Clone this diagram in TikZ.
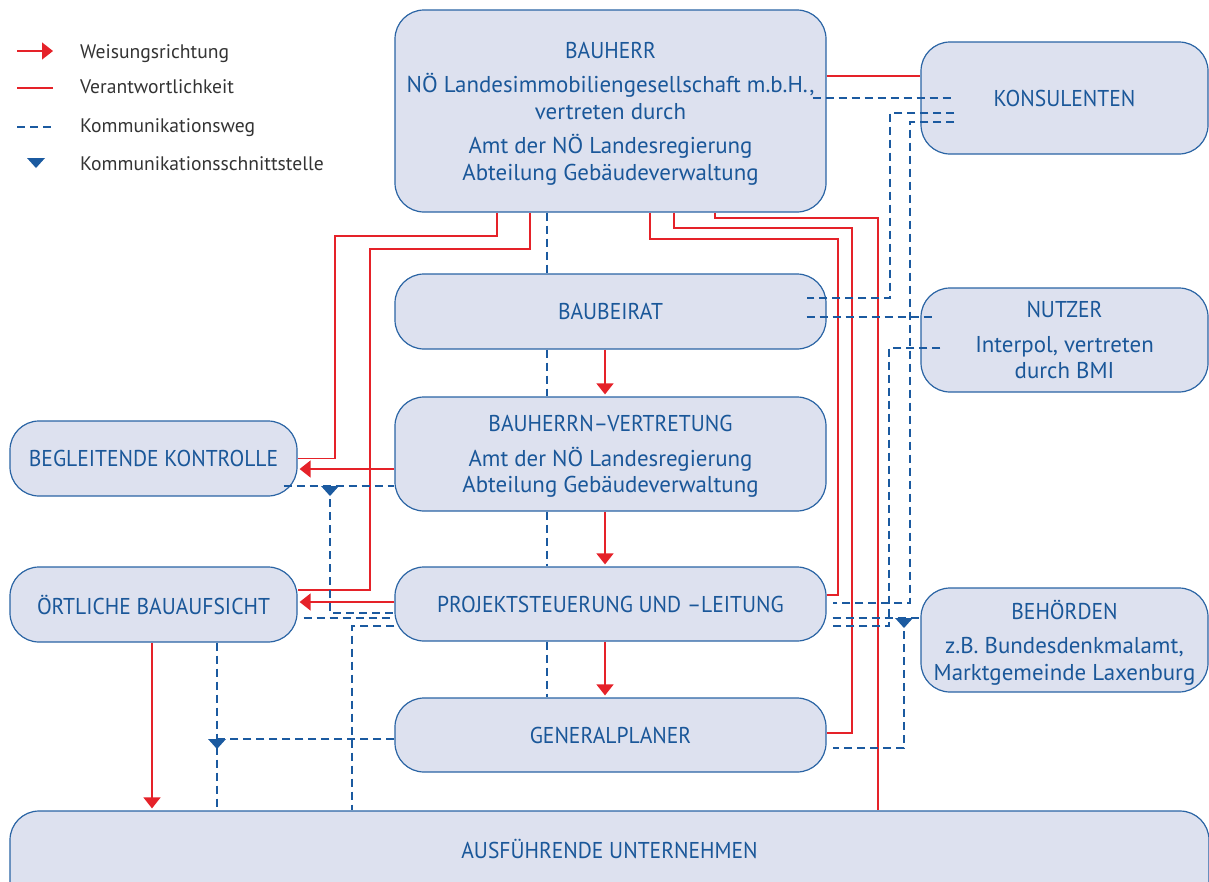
\documentclass[tikz,border=0pt]{standalone}
\usepackage{fontspec}
\setmainfont{PT Sans}
\newfontfamily\capsfamily[FakeStretch=0.94]{PT Sans}
\usetikzlibrary{arrows.meta}
\definecolor{boxfill}{HTML}{DDE1EF}
\definecolor{boxline}{HTML}{2A64A4}
\definecolor{boxtext}{HTML}{1A5799}
\definecolor{commblue}{HTML}{1B5AA0}
\definecolor{respred}{HTML}{E52229}
\definecolor{legendgray}{HTML}{333333}
\newcommand\boxfont{\fontsize{22.9}{26.5}\selectfont}
\newcommand\legfont{\fontsize{19.6}{22}\selectfont}
\newcommand\headline[1]{{\capsfamily #1}}
\tikzset{
  box/.style={draw=boxline, fill=boxfill, line width=1.2pt, rounded corners=29pt,
    text=boxtext, align=center, inner sep=0pt, text depth=-3pt, font=\boxfont},
  capsbox/.style={box, font=\boxfont\capsfamily},
  resp/.style={draw=respred, line width=1.4pt},
  order/.style={resp, -{Triangle[length=11pt,width=17pt]}, shorten >=2pt},
  comm/.style={draw=commblue, line width=2pt, dash pattern=on 8pt off 5pt},
  legtext/.style={anchor=base west, inner sep=0pt, text=legendgray, font=\legfont},
  iface/.pic={\fill[commblue] (-9,0) -- (9,0) -- (0,10) -- cycle;}
}
\begin{document}
\begin{tikzpicture}[x=1pt,y=-1pt]
\clip (0,0) rectangle (1209,881);
% legend
\draw[order, shorten >=0pt] (17,51) -- (53,51);
\draw[resp] (17,88) -- (53,88);
\draw[comm] (17,127) -- (53,127);
\pic at (36,158) {iface};
\node[legtext] (lweisung) at (80,58) {Weisungsrichtung};
\node[legtext] (lverant) at (80,93) {Verantwortlichkeit};
\node[legtext] (lweg) at (80,132) {Kommunikationsweg};
\node[legtext] (lschnitt) at (80,170) {Kommunikationsschnittstelle};
% boxes
\node[box, minimum width=431pt, minimum height=202pt] (bauherr) at (610.5,111)
  {\headline{BAUHERR}\\[8pt] NÖ Landesimmobiliengesellschaft m.b.H.,\\ vertreten durch\\[8pt]
   Amt der NÖ Landesregierung\\ Abteilung Gebäudeverwaltung};
\node[capsbox, minimum width=287pt, minimum height=112pt] (konsulenten) at (1064.5,98) {KONSULENTEN};
\node[capsbox, minimum width=431pt, minimum height=75pt] (baubeirat) at (610.5,311.5) {BAUBEIRAT};
\node[box, minimum width=287pt, minimum height=104pt] (nutzer) at (1064.5,340)
  {\headline{NUTZER}\\[8pt] Interpol, vertreten\\ durch BMI};
\node[box, minimum width=431pt, minimum height=114pt] (vertretung) at (610.5,454)
  {\headline{BAUHERRN–VERTRETUNG}\\[8pt] Amt der NÖ Landesregierung\\ Abteilung Gebäudeverwaltung};
\node[capsbox, minimum width=287pt, minimum height=75pt] (kontrolle) at (153.5,458.5) {BEGLEITENDE KONTROLLE};
\node[capsbox, minimum width=287pt, minimum height=75pt] (aufsicht) at (153.5,604.5) {ÖRTLICHE BAUAUFSICHT};
\node[capsbox, minimum width=431pt, minimum height=74pt] (steuerung) at (610.5,604) {PROJEKTSTEUERUNG UND –LEITUNG};
\node[box, minimum width=287pt, minimum height=104pt] (behoerden) at (1064.5,640)
  {\headline{BEHÖRDEN}\\[8pt] z.B. Bundesdenkmalamt,\\ Marktgemeinde Laxenburg};
\node[capsbox, minimum width=431pt, minimum height=74pt] (planer) at (610.5,735) {GENERALPLANER};
\node[capsbox, minimum width=1199pt, minimum height=140pt, text height=16pt, text depth=62pt]
  (unternehmen) at (609.5,881) {AUSFÜHRENDE UNTERNEHMEN};
% Verantwortlichkeit
\draw[resp] (bauherr.south -| 497,0) |- (335,236) |- (kontrolle.east);
\draw[resp] (bauherr.south -| 530,0) |- (370,249) |- (aufsicht.east |- 0,590);
\draw[resp] (bauherr.south -| 650,0) |- (838,239) |- (steuerung.east |- 0,595);
\draw[resp] (bauherr.south -| 674,0) |- (852,228) |- (planer.east |- 0,733);
\draw[resp] (bauherr.south -| 715,0) |- (878,218) -- (unternehmen.north -| 878,0);
\draw[resp] (bauherr.east |- 0,76) -- (konsulenten.west |- 0,76);
% Weisungsrichtung
\foreach \a/\b in {baubeirat/vertretung, vertretung/steuerung, steuerung/planer}
  \draw[order] (\a.south -| 605,0) -- (\b.north -| 605,0);
\draw[order] (vertretung.west |- 0,469) -- (kontrolle.east |- 0,469);
\draw[order] (steuerung.west |- 0,602) -- (aufsicht.east |- 0,602);
\draw[order] (aufsicht.south -| 152,0) -- (unternehmen.north -| 152,0);
% Kommunikationswege
\foreach \a/\b in {bauherr/baubeirat, baubeirat/vertretung, vertretung/steuerung, steuerung/planer}
  \draw[comm] (\a.south -| 547,0) -- (\b.north -| 547,0);
\coordinate (ikontrolle) at (330,486);
\coordinate (iaufsicht) at (217,739);
\coordinate (ibehoerden) at (904,618);
\draw[comm] ([xshift=-14pt]bauherr.east |- 0,98) -- ([xshift=34pt]konsulenten.west |- 0,98);
\draw[comm] ([xshift=34pt]konsulenten.west |- 0,113) -| (890,298) -- ([xshift=-20pt]baubeirat.east |- 0,298);
\draw[comm] ([xshift=34pt]konsulenten.west |- 0,122) -| (910,603) -- ([xshift=6pt]steuerung.east |- 0,603);
\draw[comm] ([xshift=-20pt]baubeirat.east |- 0,317) -- ([xshift=14pt]nutzer.west |- 0,317);
\draw[comm] ([xshift=20pt]nutzer.west |- 0,348) -| (889,626) -- ([xshift=6pt]steuerung.east |- 0,626);
\draw[comm] ([xshift=6pt]steuerung.east |- 0,618) -- (behoerden.west |- 0,618);
\draw[comm] (ibehoerden) |- ([xshift=6pt]planer.east |- 0,748);
\draw[comm] ([xshift=-14pt]kontrolle.east |- 0,486) -- (vertretung.west |- 0,486);
\draw[comm] (ikontrolle) |- (steuerung.west |- 0,613);
\draw[comm] ([xshift=6pt]aufsicht.east |- 0,618) -- (steuerung.west |- 0,618);
\draw[comm] (steuerung.west |- 0,626) -| (unternehmen.north -| 352,0);
\draw[comm] (aufsicht.south -| 217,0) -- (unternehmen.north -| 217,0);
\draw[comm] (planer.west |- 0,739) -- (iaufsicht);
% Schnittstellen
\foreach \p in {ikontrolle, iaufsicht, ibehoerden}
  \pic at (\p) {iface};
\end{tikzpicture}
\end{document}
